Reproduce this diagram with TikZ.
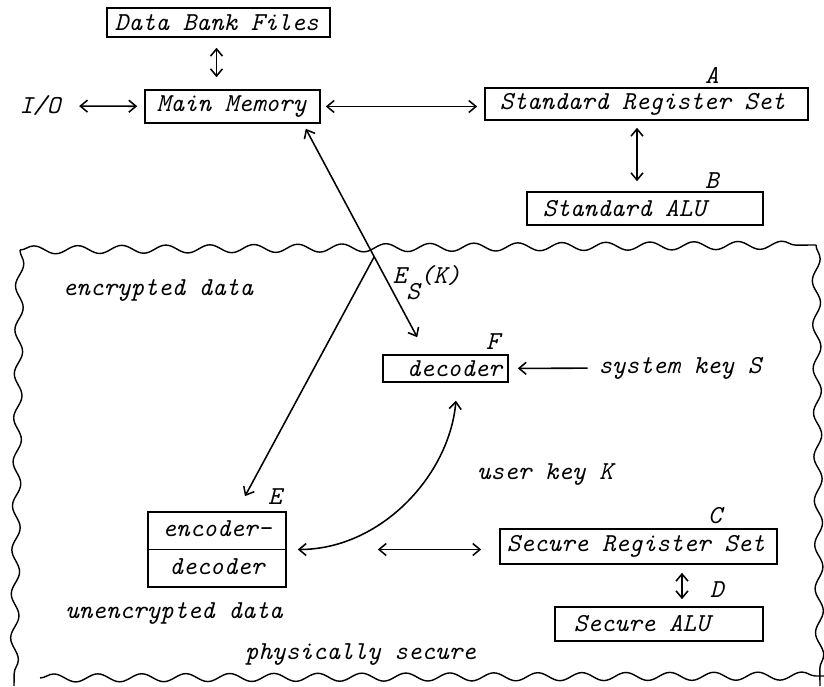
\documentclass[tikz,border=0pt]{standalone}
\usetikzlibrary{arrows.meta,shapes.multipart,decorations.pathmorphing}
\DeclareRobustCommand\typefont{\ttfamily\itshape\fontsize{18.4}{22}\selectfont}
\begin{document}
\begin{tikzpicture}[x=0.025cm,y=0.025cm,
		every node/.style={font=\typefont,inner sep=0pt,execute at begin node={\spaceskip=0.525em\relax}},
		box/.style={draw,line width=1.1pt,inner ysep=0pt,minimum height=0.8cm},
		wavy/.style={line width=1pt,decorate,decoration={snake,amplitude=0.1cm,segment length=1.1cm}},
		>={Straight Barb[length=0.18cm,width=0.3cm]},
		line width=1.1pt]
	\useasboundingbox (0,0) rectangle (824,686);

	\node[box,text width=5.175cm,inner xsep=0.2cm,minimum height=0.725cm] (dbf) at (218.5,663.5) {Data Bank Files};
	\node[box,text width=3.775cm,inner xsep=0.3cm,minimum height=0.825cm] (mm) at (232.5,579.5) {Main Memory};
	\node[box,text width=7.325cm,inner xsep=0.375cm] (srs) at (646.5,582) {Standard Register Set};
	\node[box,text width=5.1cm,inner xsep=0.4cm,minimum height=0.825cm] (salu) at (645,477.5) {Standard ALU};
	\node[box,text width=2.825cm,inner xsep=0.15cm,minimum height=0.675cm,align=right] (dec) at (445.5,317.5) {decoder};
	\node[draw,line width=1.1pt,rectangle split,rectangle split parts=2,text width=3.0cm,inner xsep=0.225cm,inner ysep=1.8pt,align=center] (ed) at (217,136.5) {encoder-\strut\nodepart{two}decoder\strut};
	\node[box,text width=6.575cm,inner xsep=0.175cm,minimum height=0.875cm] (ssrs) at (638.5,139.5) {Secure Register Set};
	\node[box,text width=4.25cm,inner xsep=0.475cm,minimum height=0.85cm] (ssalu) at (659,62) {Secure ALU};

	\foreach \n/\x/\y in {A/712/611, B/712/505, F/493/344, E/275/189, C/715/170, D/717/96} {
		\node (l\n) at (\x,\y) {\n};
	}

	\node (io) at (40,580) {I/O};
	\node (enc) at (158,396) {encrypted data};
	\node (unenc) at (174,73) {unencrypted data};
	\node (phys) at (360.5,31) {physically secure};
	\node (uk) at (545,211) {user key K};
	\node (sk) at (680,318) {system key S};
	\node[anchor=base west] (esk) at (392,402) {E\raisebox{-0.6em}{S}(K)};

	\draw[<->,shorten <=0.45cm,shorten >=0.175cm] (io) -- (mm);
	\draw[<->,shorten <=0.125cm,shorten >=0.175cm] (mm.east) -- (mm.east -| srs.west);
	\draw[<->,shorten <=0.25cm,shorten >=0.3cm] ([xshift=-0.05cm]dbf.south) -- ([xshift=-0.05cm]dbf.south |- mm.north);
	\draw[<->,shorten <=0.175cm,shorten >=0.25cm] ([xshift=-0.2cm]salu.north |- srs.south) -- ([xshift=-0.2cm]salu.north);
	\draw[<->] ([xshift=-0.375cm,yshift=-0.125cm]mm.south east) -- coordinate[pos=0.614] (br) ([xshift=0.875cm,yshift=0.425cm]dec.north west);
	\draw[->] (br) -- ([xshift=0.7cm,yshift=0.375cm]ed.north);
	\draw[->,shorten <=0.25cm,shorten >=0.225cm] (sk) -- (dec);
	\draw[<->,shorten <=0.275cm,shorten >=0.45cm] (ed.east) to[out=0,in=-95] ([xshift=0.3cm]dec.south);
	\draw[<->,shorten <=2.275cm,shorten >=0.45cm] (ed.east) -- (ed.east -| ssrs.west);
	\draw[<->,shorten <=0.2cm,shorten >=0.175cm] ([xshift=0.575cm]ssalu.north |- ssrs.south) -- ([xshift=0.575cm]ssalu.north);

	\draw[wavy] (20,436) -- (816,441);
	\draw[wavy] (816,441) -- (820,0);
	\draw[wavy] (20,436) -- (14,0);
	\draw[wavy] (40,8) -- (824,10);

\end{tikzpicture}
\end{document}
